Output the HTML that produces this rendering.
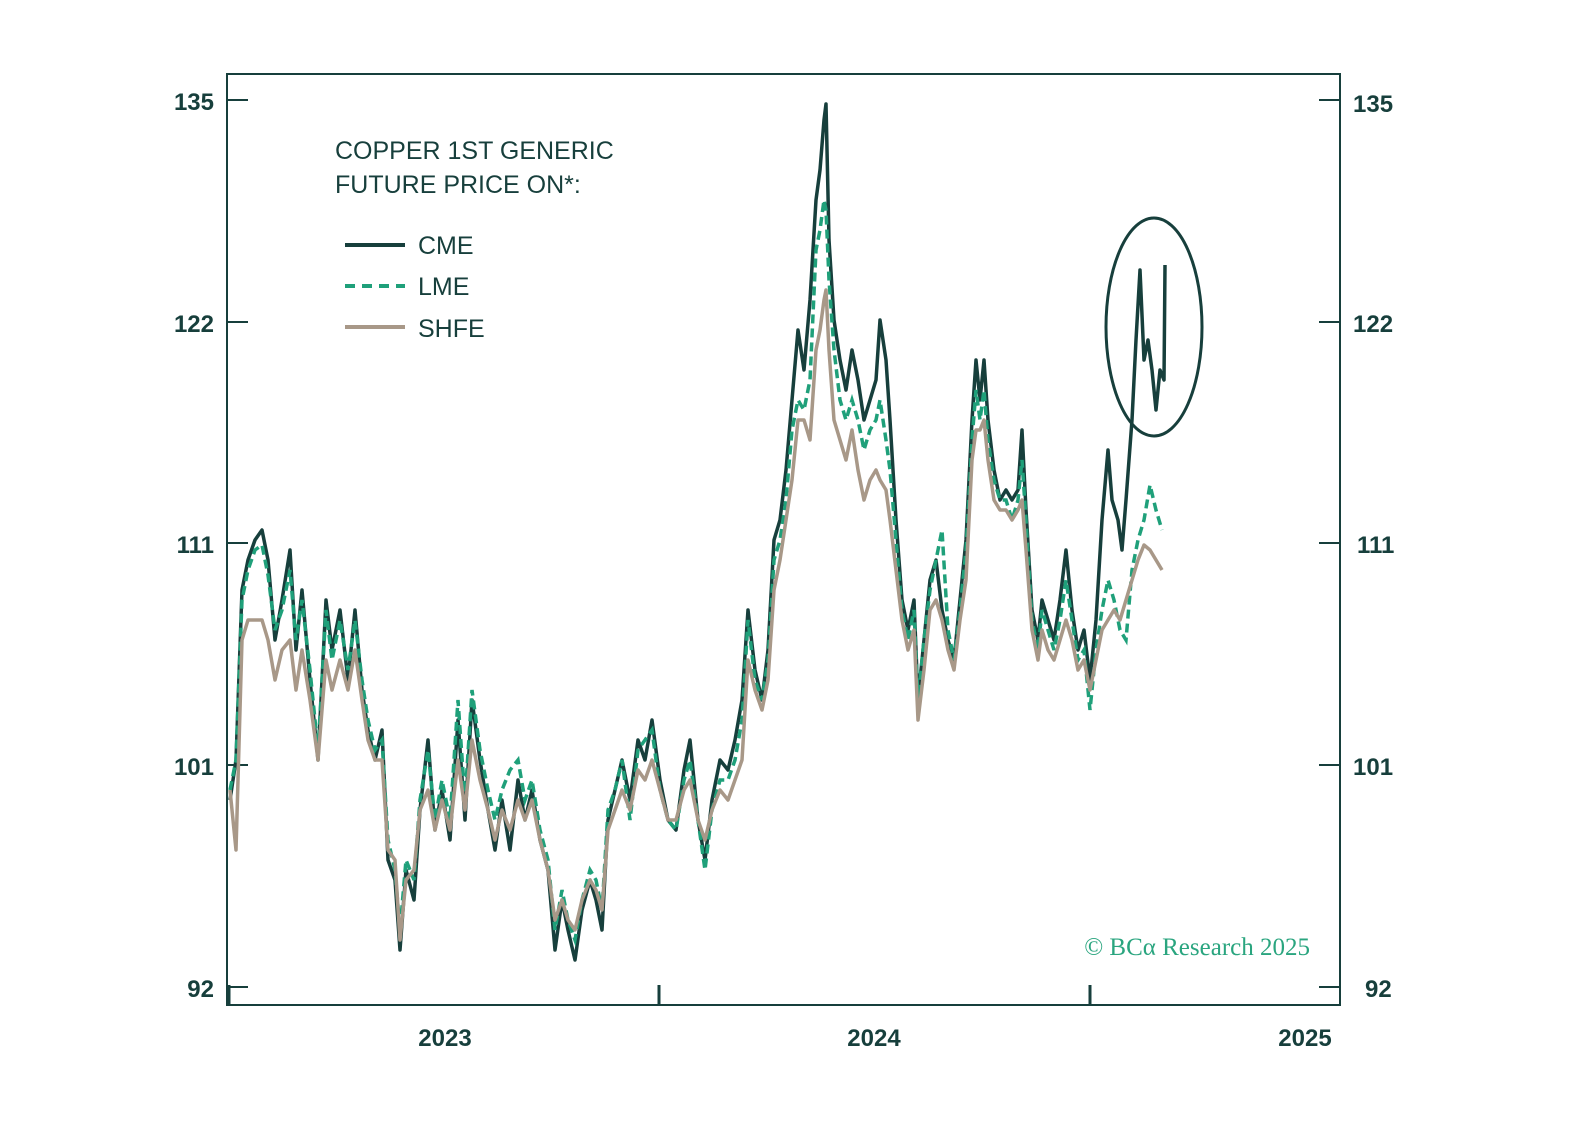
<!DOCTYPE html>
<html><head><meta charset="utf-8"><style>
body{margin:0;background:#fff;}
svg{display:block;font-family:"Liberation Sans",sans-serif;}
</style></head><body>
<svg width="1595" height="1144" viewBox="0 0 1595 1144">
<rect width="1595" height="1144" fill="#fff"/>
<rect x="227" y="74" width="1113" height="931" fill="none" stroke="#173f3c" stroke-width="2"/>
<g stroke="#173f3c" stroke-width="2">
<line x1="227" y1="100" x2="248" y2="100"/><line x1="227" y1="322" x2="248" y2="322"/><line x1="227" y1="543" x2="248" y2="543"/><line x1="227" y1="765" x2="248" y2="765"/><line x1="227" y1="987" x2="248" y2="987"/>
<line x1="1319" y1="100" x2="1340" y2="100"/><line x1="1319" y1="322" x2="1340" y2="322"/><line x1="1319" y1="543" x2="1340" y2="543"/><line x1="1319" y1="765" x2="1340" y2="765"/><line x1="1319" y1="987" x2="1340" y2="987"/>
<line x1="229" y1="985" x2="229" y2="1005" stroke-width="3"/><line x1="659" y1="985" x2="659" y2="1005" stroke-width="3"/><line x1="1090" y1="985" x2="1090" y2="1005" stroke-width="3"/>
</g>
<g fill="#173f3c" font-size="24" font-weight="bold">
<text x="214" y="110" text-anchor="end">135</text><text x="214" y="332" text-anchor="end">122</text><text x="214" y="553" text-anchor="end">111</text><text x="214" y="775" text-anchor="end">101</text><text x="214" y="997" text-anchor="end">92</text>
<text x="1353" y="112">135</text><text x="1353" y="332">122</text><text x="1357" y="553">111</text><text x="1353" y="775">101</text><text x="1365" y="997">92</text>
<text x="445" y="1046" text-anchor="middle">2023</text><text x="874" y="1046" text-anchor="middle">2024</text><text x="1305" y="1046" text-anchor="middle">2025</text>
</g>
<g fill="#173f3c" font-size="25">
<text x="335" y="159">COPPER 1ST GENERIC</text><text x="335" y="193">FUTURE PRICE ON*:</text>
<text x="418" y="254">CME</text><text x="418" y="295">LME</text><text x="418" y="337">SHFE</text>
</g>
<line x1="345" y1="245" x2="405" y2="245" stroke="#173f3c" stroke-width="4"/>
<line x1="345" y1="286" x2="405" y2="286" stroke="#1fa07a" stroke-width="4" stroke-dasharray="10,7"/>
<line x1="345" y1="327" x2="405" y2="327" stroke="#a89888" stroke-width="4"/>
<text x="1310" y="955" text-anchor="end" fill="#2aa57f" font-size="25" font-family="Liberation Serif,serif">© BCα Research 2025</text>
<polyline fill="none" stroke="#173f3c" stroke-width="3.5" stroke-linejoin="round" points="230,800 236,760 242,590 248,560 255,540 262,530 268,560 275,640 282,600 290,550 296,650 302,590 310,680 318,760 326,600 332,650 340,610 348,680 355,610 362,690 368,730 375,760 382,730 388,860 395,880 400,950 406,870 414,900 420,810 428,740 435,830 442,790 450,840 458,720 465,820 472,700 480,760 488,810 495,850 502,800 510,850 518,780 525,820 532,790 540,840 548,870 555,950 562,900 568,930 575,960 582,910 590,880 596,900 602,930 608,820 615,790 622,760 630,800 638,740 645,760 652,720 660,780 668,820 676,830 684,770 690,740 698,820 705,860 712,800 720,760 728,770 735,740 742,700 748,610 755,670 762,700 768,650 774,540 780,520 786,470 792,400 798,330 804,370 810,300 816,200 820,170 824,120 826,104 829,240 834,320 840,360 846,390 852,350 858,380 864,420 870,400 876,380 880,320 886,360 890,420 896,520 902,600 908,630 914,600 918,700 924,640 930,580 936,560 942,610 948,640 954,660 960,600 966,540 972,420 976,360 980,400 984,360 988,420 994,470 1000,500 1006,490 1012,500 1018,490 1022,430 1026,510 1032,610 1038,640 1042,600 1048,620 1054,640 1060,600 1066,550 1072,610 1078,650 1084,630 1090,680 1096,620 1102,520 1108,450 1112,500 1118,520 1122,550 1126,500 1132,420 1136,340 1140,270 1144,360 1148,340 1152,370 1156,410 1160,370 1164,380 1165,265"/>
<polyline fill="none" stroke="#1fa07a" stroke-width="3.5" stroke-dasharray="9,5" points="230,790 236,760 242,600 248,570 255,550 262,545 268,575 275,630 282,610 290,570 296,640 302,600 310,670 318,750 326,610 332,660 340,620 348,670 355,620 362,680 368,720 375,750 382,740 388,840 395,870 400,930 406,860 414,880 420,800 428,750 435,820 442,780 450,820 458,700 465,800 472,690 480,750 488,790 495,820 502,790 510,770 518,760 525,800 532,780 540,830 548,860 555,930 562,890 568,920 575,940 582,900 590,870 596,880 602,910 608,810 615,790 622,760 630,820 638,750 645,740 652,730 660,790 668,820 676,830 684,780 690,760 698,820 705,870 712,810 720,780 728,780 735,760 742,720 748,620 755,680 762,700 768,660 774,560 780,540 786,500 792,430 798,400 804,410 810,380 816,250 820,230 824,200 826,210 829,280 834,350 840,400 846,420 852,400 858,420 864,450 870,430 876,420 880,400 886,440 890,470 896,540 902,610 908,640 914,610 918,700 924,640 930,590 936,560 942,530 948,630 954,660 960,610 966,550 972,440 976,390 980,420 984,390 988,440 994,480 1000,500 1006,500 1012,520 1018,500 1022,460 1026,520 1032,620 1038,650 1042,610 1048,630 1054,650 1060,620 1066,580 1072,620 1078,660 1084,650 1090,710 1096,650 1102,610 1108,580 1114,600 1120,630 1126,640 1132,570 1138,540 1144,520 1150,485 1156,510 1162,530"/>
<polyline fill="none" stroke="#a89888" stroke-width="3.5" stroke-linejoin="round" points="230,790 236,850 242,640 248,620 255,620 262,620 268,640 275,680 282,650 290,640 296,690 302,650 310,700 318,760 326,660 332,690 340,660 348,690 355,650 362,700 368,740 375,760 382,760 388,850 395,860 400,940 406,880 414,870 420,810 428,790 435,830 442,800 450,830 458,760 465,810 472,740 480,780 488,810 495,840 502,810 510,830 518,800 525,820 532,800 540,840 548,870 555,920 562,900 568,920 575,930 582,900 590,880 596,890 602,910 608,830 615,810 622,790 630,810 638,770 645,780 652,760 660,790 668,820 676,820 684,790 690,780 698,820 705,840 712,810 720,790 728,800 735,780 742,760 748,660 755,690 762,710 768,680 774,590 780,560 786,520 792,480 798,420 804,420 810,440 816,350 820,330 824,300 826,290 829,350 834,420 840,440 846,460 852,430 858,470 864,500 870,480 876,470 880,480 886,490 890,520 896,570 902,620 908,650 914,630 918,720 924,670 930,610 936,600 942,620 948,650 954,670 960,620 966,580 972,460 976,430 980,430 984,420 988,460 994,500 1000,510 1006,510 1012,520 1018,510 1022,500 1026,550 1032,630 1038,660 1042,630 1048,650 1054,660 1060,640 1066,620 1072,640 1078,670 1084,660 1090,690 1096,660 1102,630 1108,620 1114,610 1120,620 1126,600 1132,580 1138,560 1144,545 1150,550 1156,560 1162,570"/>
<ellipse cx="1154" cy="327" rx="48" ry="109" fill="none" stroke="#173f3c" stroke-width="3"/>
</svg>
</body></html>
